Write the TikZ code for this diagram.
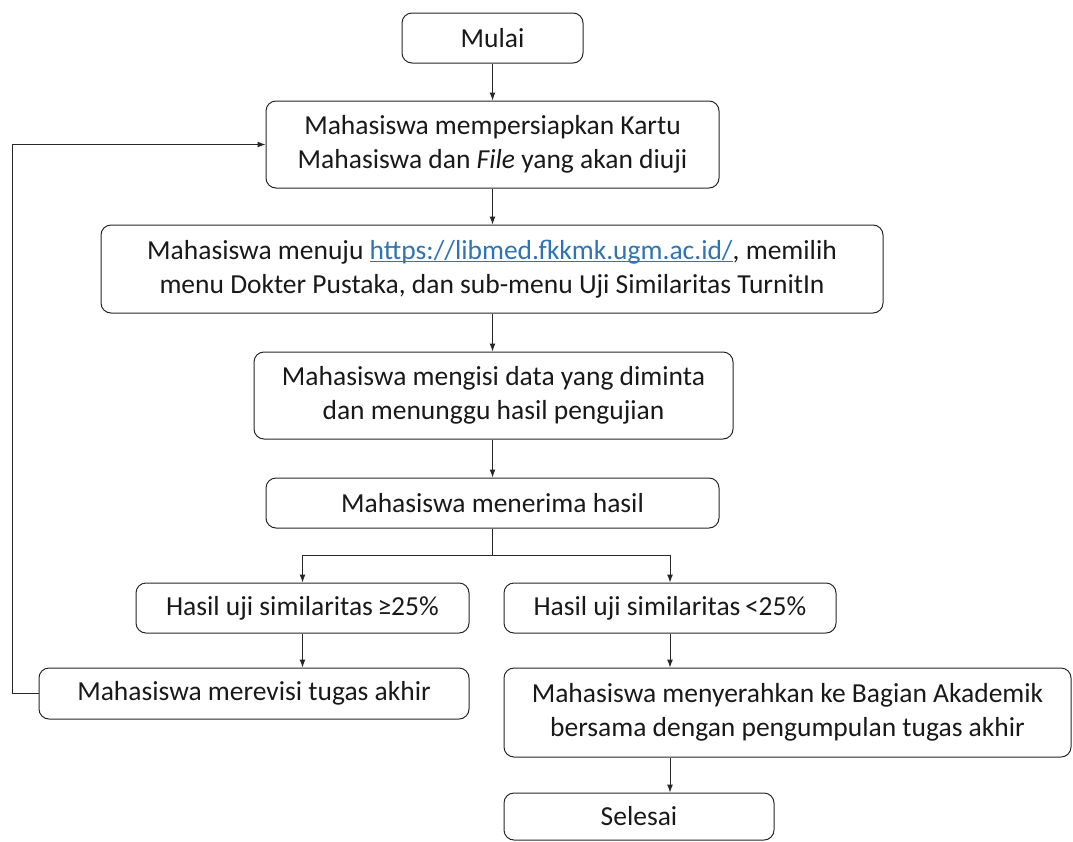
\documentclass[tikz,border=0pt]{standalone}
\usepackage{fontspec}
\setmainfont{Carlito}
\usetikzlibrary{arrows.meta,positioning}
\definecolor{linkblue}{RGB}{46,116,181}
\tikzset{
  box/.style={draw=black!85, line width=1pt, rounded corners=10pt, align=center, inner sep=0pt,
    font=\fontsize{27.5}{34}\selectfont, text=black!90},
  arr/.style={draw=black!85, line width=1pt, -{Latex[length=8pt,width=6pt]}},
  ln/.style={draw=black!85, line width=1pt}
}
\newcommand{\lnk}[1]{\setbox0\hbox{#1}{\color{linkblue}\rlap{\rule[-2.5pt]{\wd0}{1.2pt}}\box0}}
\begin{document}
\begin{tikzpicture}[x=1pt,y=-1pt]
\useasboundingbox (0,0) rectangle (1073,841);
\node[box, minimum width=181pt, minimum height=50pt] (mulai) at (492.5,38) {Mulai};
\node[box, minimum width=453pt, minimum height=87pt] (kartu) at (492.5,144.5) {Mahasiswa mempersiapkan Kartu\\Mahasiswa dan \textit{File} yang akan diuji};
\node[box, minimum width=782pt, minimum height=88pt] (libmed) at (492,269) {Mahasiswa menuju \lnk{https://libmed.fkkmk.ugm.ac.id/}, memilih\\menu Dokter Pustaka, dan sub-menu Uji Similaritas TurnitIn};
\node[box, minimum width=479pt, minimum height=87pt] (isi) at (493.5,395.5) {Mahasiswa mengisi data yang diminta\\dan menunggu hasil pengujian};
\node[box, minimum width=453pt, minimum height=50pt] (terima) at (492.5,503) {Mahasiswa menerima hasil};
\node[box, minimum width=333pt, minimum height=50pt] (ge) at (302.5,608) {Hasil uji similaritas\,≥25\%};
\node[box, minimum width=332pt, minimum height=50pt] (lt) at (670,608) {Hasil uji similaritas\,<25\%};
\node[box, minimum width=430pt, minimum height=51pt] (rev) at (254,693.5) {Mahasiswa merevisi tugas akhir};
\node[box, minimum width=567pt, minimum height=89pt] (serah) at (787.5,712.5) {Mahasiswa menyerahkan ke Bagian Akademik\\bersama dengan pengumpulan tugas akhir};
\node[box, minimum width=270pt, minimum height=47pt] (selesai) at (639,816.5) {Selesai};
\coordinate (split) at (492.5,555);
\coordinate (loopx) at (12,0);
\draw[arr] (mulai.south) -- (kartu.north);
\draw[arr] (kartu.south) -- (kartu.south |- libmed.north);
\draw[arr] (libmed.south -| kartu.south) -- (kartu.south |- isi.north);
\draw[arr] (isi.south -| kartu.south) -- (terima.north);
\draw[ln] (terima.south) -- (split);
\draw[arr] (split) -| (ge.north);
\draw[arr] (split) -| (lt.north);
\draw[arr] (ge.south) -- (ge.south |- rev.north);
\draw[arr] (lt.south) -- (lt.south |- serah.north);
\draw[arr] (serah.south -| lt.south) -- (lt.south |- selesai.north);
\draw[arr] (rev.west) -- (rev.west -| loopx) |- (kartu.west);
\end{tikzpicture}
\end{document}
